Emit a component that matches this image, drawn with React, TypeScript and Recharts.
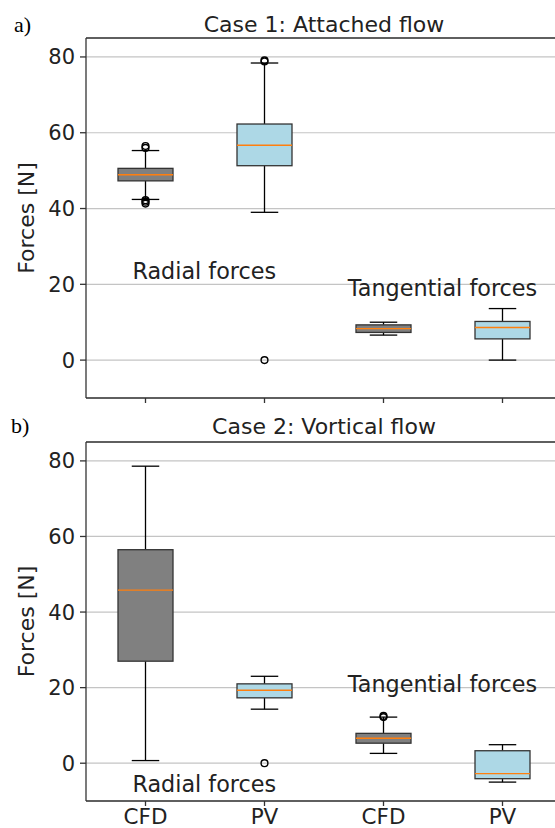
import React from "react";
import {
  ComposedChart,
  Bar,
  Scatter,
  XAxis,
  YAxis,
  CartesianGrid,
  ReferenceLine,
  ReferenceDot,
} from "recharts";

// ---------- data ----------
const positions = [1, 2, 3, 4];
const xTickLabels = ["CFD", "PV", "CFD", "PV"];
const boxColors = ["#808080", "#add8e6", "#808080", "#add8e6"];
const yTicks = [0, 20, 40, 60, 80];
const yDomain = [-10, 85];
const xDomain = [0.5, 4.5];

// Case 1: Attached flow
const case1WhiskerLow = [42.4, 39.0, 6.6, 0.0];
const case1Q1 = [47.3, 51.3, 7.3, 5.6];
const case1Median = [48.9, 56.7, 8.3, 8.6];
const case1Q3 = [50.6, 62.3, 9.3, 10.2];
const case1WhiskerHigh = [55.3, 78.4, 10.0, 13.6];
const case1OutlierX = [1, 1, 1, 1, 1, 2, 2, 2];
const case1OutlierY = [56.0, 56.5, 42.2, 41.8, 41.3, 78.8, 79.1, 0.0];

// Case 2: Vortical flow
const case2WhiskerLow = [0.7, 14.3, 2.6, -5.0];
const case2Q1 = [27.0, 17.3, 5.3, -4.1];
const case2Median = [45.8, 19.3, 6.6, -2.75];
const case2Q3 = [56.5, 21.0, 7.9, 3.3];
const case2WhiskerHigh = [78.6, 23.0, 12.2, 4.9];
const case2OutlierX = [2, 3, 3];
const case2OutlierY = [0.0, 12.2, 12.5];

// text annotations (data coordinates)
const annotationTexts = ["Radial forces", "Tangential forces"];
const case1AnnotX = [0.89, 2.7];
const case1AnnotY = [21.4, 16.8];
const case2AnnotX = [0.89, 2.7];
const case2AnnotY = [-7.5, 18.9];

const titles = ["Case 1: Attached flow", "Case 2: Vortical flow"];
const panelLetters = ["a)", "b)"];
const yLabel = "Forces [N]";

// ---------- builders ----------
function buildBoxes(lo: number[], q1: number[], med: number[], q3: number[], hi: number[]) {
  return positions.map((x, i) => ({
    x,
    lo: lo[i],
    q1: q1[i],
    med: med[i],
    q3: q3[i],
    hi: hi[i],
    fill: boxColors[i],
  }));
}
function buildOutliers(xs: number[], ys: number[]) {
  return xs.map((x, i) => ({ x, v: ys[i] }));
}
function buildAnnots(xs: number[], ys: number[]) {
  return annotationTexts.map((t, i) => ({ text: t, x: xs[i], y: ys[i] }));
}

const case1Boxes = buildBoxes(case1WhiskerLow, case1Q1, case1Median, case1Q3, case1WhiskerHigh);
const case2Boxes = buildBoxes(case2WhiskerLow, case2Q1, case2Median, case2Q3, case2WhiskerHigh);
const case1Outliers = buildOutliers(case1OutlierX, case1OutlierY);
const case2Outliers = buildOutliers(case2OutlierX, case2OutlierY);
const case1Annots = buildAnnots(case1AnnotX, case1AnnotY);
const case2Annots = buildAnnots(case2AnnotX, case2AnnotY);

const FONT = "DejaVu Sans";
const TEXT_COLOR = "#222";
const SPINE = "#333";

// ---------- shapes ----------
function BoxShape(props: any) {
  const { x, y, width, height } = props;
  const d = props.payload ?? props;
  if (x == null || y == null || d == null) return null;
  const top = Math.min(y, y + height);
  const bottom = Math.max(y, y + height);
  const span = d.hi - d.lo;
  const py = (v: number) => (span === 0 ? bottom : bottom - ((v - d.lo) / span) * (bottom - top));
  const cx = x + width / 2;
  const capHalf = width / 4;
  const yHi = py(d.hi);
  const yLo = py(d.lo);
  const yQ1 = py(d.q1);
  const yQ3 = py(d.q3);
  const yMed = py(d.med);
  return (
    <g>
      <line x1={cx} x2={cx} y1={yHi} y2={yQ3} stroke="#000" strokeWidth={1.3} />
      <line x1={cx} x2={cx} y1={yQ1} y2={yLo} stroke="#000" strokeWidth={1.3} />
      <line x1={cx - capHalf} x2={cx + capHalf} y1={yHi} y2={yHi} stroke="#000" strokeWidth={1.3} />
      <line x1={cx - capHalf} x2={cx + capHalf} y1={yLo} y2={yLo} stroke="#000" strokeWidth={1.3} />
      <rect x={x} y={yQ3} width={width} height={yQ1 - yQ3} fill={d.fill} stroke={SPINE} strokeWidth={1.3} />
      <line x1={x} x2={x + width} y1={yMed} y2={yMed} stroke="#ff7f0e" strokeWidth={1.4} />
    </g>
  );
}

function OutlierShape(props: any) {
  const { cx, cy } = props;
  if (cx == null || cy == null) return null;
  return <circle cx={cx} cy={cy} r={3.4} fill="none" stroke="#000" strokeWidth={1.4} />;
}

function makeAnnotShape(text: string) {
  return (p: any) => (
    <text x={p.cx} y={p.cy} fontSize={22.3} fontFamily={FONT} fill={TEXT_COLOR} textAnchor="start">
      {text}
    </text>
  );
}

// ---------- panel ----------
function BoxPanel(props: {
  boxes: any[];
  outliers: any[];
  annots: any[];
  showLabels: boolean;
  height: number;
  marginTop: number;
  xAxisHeight: number;
}) {
  const { boxes, outliers, annots, showLabels, height, marginTop, xAxisHeight } = props;
  return (
    <ComposedChart
      width={580}
      height={height}
      data={boxes}
      margin={{ top: marginTop, right: 18, bottom: 0, left: 0 }}
    >
      <CartesianGrid horizontal vertical={false} stroke="#c4c4c4" strokeWidth={1.2} />
      <XAxis
        dataKey="x"
        type="number"
        domain={xDomain}
        ticks={positions}
        allowDataOverflow
        interval={0}
        height={xAxisHeight}
        tickSize={5}
        tickMargin={3}
        axisLine={{ stroke: SPINE, strokeWidth: 1.3 }}
        tickLine={{ stroke: SPINE, strokeWidth: 1.3 }}
        tick={{ fontSize: 21.5, fill: TEXT_COLOR, fontFamily: FONT }}
        tickFormatter={(v: number) => (showLabels ? xTickLabels[positions.indexOf(v)] : "")}
      />
      <YAxis
        type="number"
        domain={yDomain}
        ticks={yTicks}
        allowDataOverflow
        interval={0}
        width={86}
        tickSize={6}
        tickMargin={5}
        axisLine={{ stroke: SPINE, strokeWidth: 1.3 }}
        tickLine={{ stroke: SPINE, strokeWidth: 1.3 }}
        tick={{ fontSize: 21, fill: TEXT_COLOR, fontFamily: FONT }}
      />
      <ReferenceLine y={yDomain[1]} stroke={SPINE} strokeWidth={1.3} />
      <Bar
        dataKey={(d: any) => [d.lo, d.hi]}
        barSize={55}
        shape={BoxShape}
        isAnimationActive={false}
      />
      <Scatter data={outliers} dataKey="v" shape={OutlierShape} isAnimationActive={false} />
      {annots.map((a, i) => (
        <ReferenceDot key={i} x={a.x} y={a.y} r={0} shape={makeAnnotShape(a.text)} />
      ))}
    </ComposedChart>
  );
}

export default function App() {
  const panelATop = 0;
  const panelBTop = 405;
  const aPlotMid = panelATop + 38 + 360 / 2;
  const bPlotMid = panelBTop + 37 + 359 / 2;
  return (
    <div
      style={{
        position: "fixed",
        left: 0,
        top: 0,
        width: 555,
        height: 828,
        overflow: "hidden",
        background: "#fff",
      }}
    >
      <div style={{ position: "absolute", left: 0, top: panelATop }}>
        <BoxPanel
          boxes={case1Boxes}
          outliers={case1Outliers}
          annots={case1Annots}
          showLabels={false}
          height={404}
          marginTop={38}
          xAxisHeight={6}
        />
      </div>
      <div style={{ position: "absolute", left: 0, top: panelBTop }}>
        <BoxPanel
          boxes={case2Boxes}
          outliers={case2Outliers}
          annots={case2Annots}
          showLabels={true}
          height={423}
          marginTop={37}
          xAxisHeight={27}
        />
      </div>
      <svg
        width={555}
        height={828}
        style={{ position: "absolute", left: 0, top: 0, pointerEvents: "none" }}
      >
        <text x={324} y={31.5} fontSize={22} fontFamily={FONT} fill={TEXT_COLOR} textAnchor="middle">
          {titles[0]}
        </text>
        <text x={324} y={434.3} fontSize={22} fontFamily={FONT} fill={TEXT_COLOR} textAnchor="middle">
          {titles[1]}
        </text>
        <text x={14} y={32} fontSize={22} fontFamily="Liberation Serif" fill="#000">
          {panelLetters[0]}
        </text>
        <text x={11} y={433} fontSize={22} fontFamily="Liberation Serif" fill="#000">
          {panelLetters[1]}
        </text>
        <text
          x={34}
          y={aPlotMid}
          transform={`rotate(-90 34 ${aPlotMid})`}
          fontSize={22}
          fontFamily={FONT}
          fill={TEXT_COLOR}
          textAnchor="middle"
        >
          {yLabel}
        </text>
        <text
          x={34}
          y={bPlotMid}
          transform={`rotate(-90 34 ${bPlotMid})`}
          fontSize={22}
          fontFamily={FONT}
          fill={TEXT_COLOR}
          textAnchor="middle"
        >
          {yLabel}
        </text>
      </svg>
    </div>
  );
}
